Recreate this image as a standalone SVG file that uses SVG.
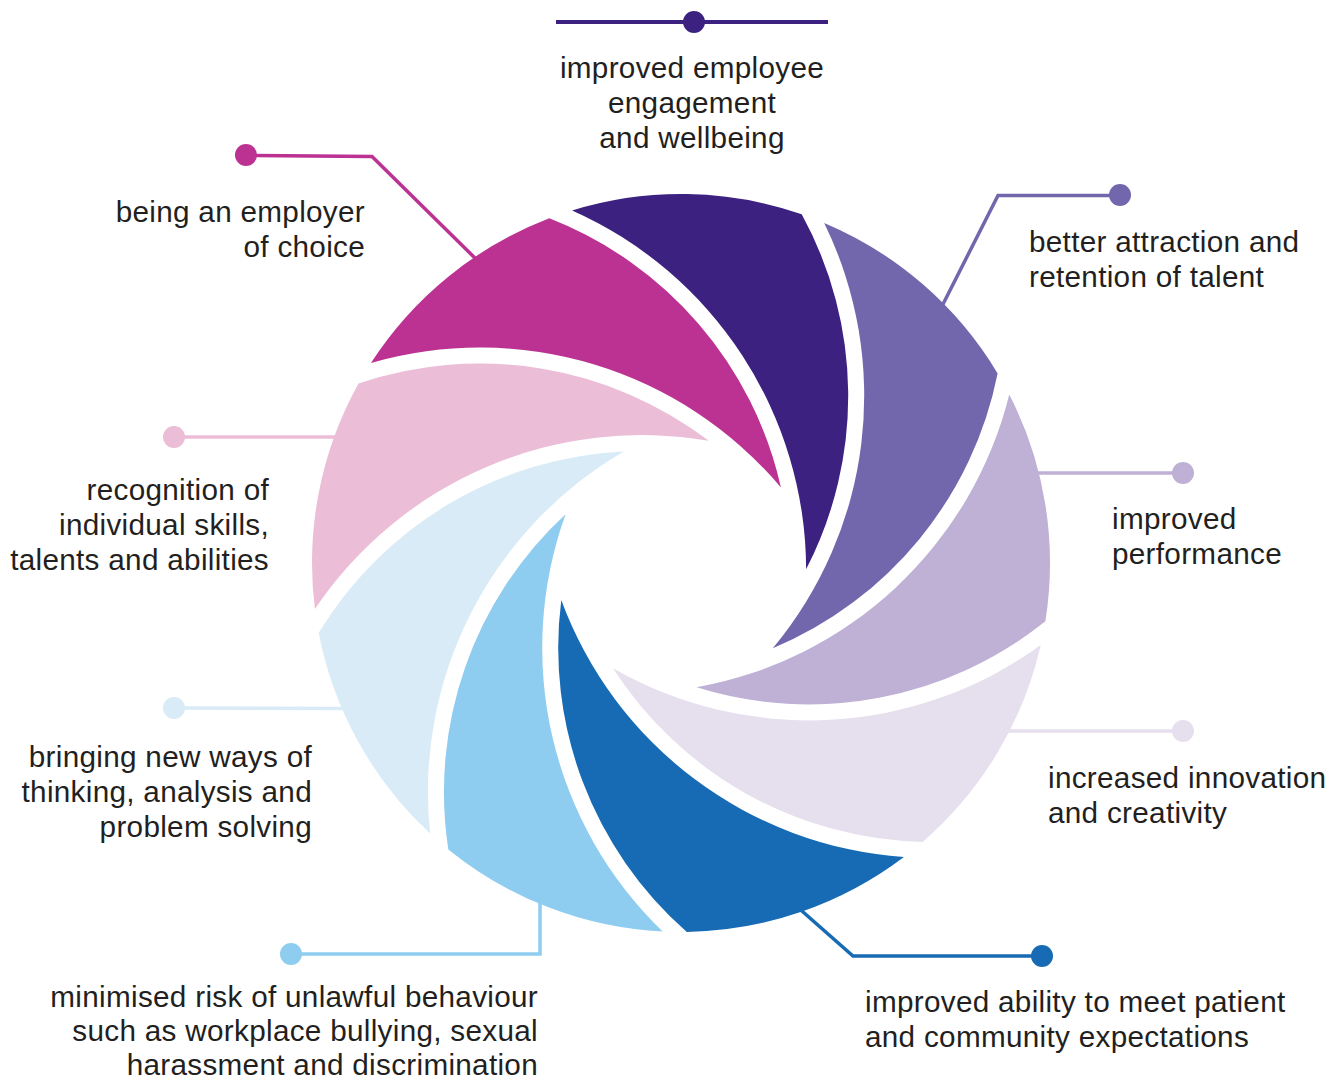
<svg xmlns="http://www.w3.org/2000/svg" width="1332" height="1081" viewBox="0 0 1332 1081">
<style>
.lbl{font-family:"Liberation Sans",Arial,sans-serif;font-size:29.7px;letter-spacing:0.3px;fill:#231f20}
.r{text-anchor:end}
.m{text-anchor:middle}
.c{fill:none;stroke-width:3.5;stroke-linejoin:miter}
</style>
<defs>
<path id="blade" d="M572.1,210.45 A369,369 0 0 1 801.7,214.3 A378,378 0 0 1 806.13,569.28 A394,394 0 0 0 572.1,210.45 Z"/>
</defs>
<rect width="1332" height="1081" fill="#ffffff"/>
<g id="connectors">
<line class="c" x1="556" y1="22" x2="828" y2="22" stroke="#3c2180" style="stroke-width:4"/>
<circle cx="694" cy="22" r="11" fill="#3c2180"/>
<polyline class="c" points="246,155.5 372,156.5 480,263" stroke="#bc3292"/>
<circle cx="246" cy="155" r="11" fill="#bc3292"/>
<polyline class="c" points="1120,195.5 998,195.5 936,318" stroke="#7266ad"/>
<circle cx="1120" cy="195" r="11" fill="#7266ad"/>
<polyline class="c" points="174,437 346,437" stroke="#ebbdd7"/>
<circle cx="174" cy="437" r="11" fill="#ebbdd7"/>
<polyline class="c" points="1183,473 1028,473" stroke="#bfb0d5"/>
<circle cx="1183" cy="473" r="11" fill="#bfb0d5"/>
<polyline class="c" points="174,708 352,708.5" stroke="#d9ebf7"/>
<circle cx="174" cy="708" r="11" fill="#d9ebf7"/>
<polyline class="c" points="1183,731 998,731" stroke="#e6dfee"/>
<circle cx="1183" cy="731" r="11" fill="#e6dfee"/>
<polyline class="c" points="291,954 540,954 540,892" stroke="#8fcdf0"/>
<circle cx="291" cy="954" r="11" fill="#8fcdf0"/>
<polyline class="c" points="1042,956 853,956 794,904" stroke="#166bb4"/>
<circle cx="1042" cy="956" r="11" fill="#166bb4"/>
</g>
<g id="blade-engagement"><use href="#blade" fill="#3c2180"/></g>
<g id="blade-employer"><use href="#blade" fill="#bc3292" transform="rotate(-40 681 563)"/></g>
<g id="blade-recognition"><use href="#blade" fill="#ebbdd7" transform="rotate(-80 681 563)"/></g>
<g id="blade-newways"><use href="#blade" fill="#d9ebf7" transform="rotate(-120 681 563)"/></g>
<g id="blade-risk"><use href="#blade" fill="#8fcdf0" transform="rotate(-160 681 563)"/></g>
<g id="blade-patient"><use href="#blade" fill="#166bb4" transform="rotate(-200 681 563)"/></g>
<g id="blade-innovation"><use href="#blade" fill="#e6dfee" transform="rotate(-240 681 563)"/></g>
<g id="blade-performance"><use href="#blade" fill="#bfb0d5" transform="rotate(-280 681 563)"/></g>
<g id="blade-attraction"><use href="#blade" fill="#7266ad" transform="rotate(-320 681 563)"/></g>
<g id="label-engagement">
<text class="lbl m" x="692" y="78">improved employee</text>
<text class="lbl m" x="692" y="113">engagement</text>
<text class="lbl m" x="692" y="148">and wellbeing</text>
</g>
<g id="label-employer">
<text class="lbl r" x="365" y="222">being an employer</text>
<text class="lbl r" x="365" y="257">of choice</text>
</g>
<g id="label-attraction">
<text class="lbl" x="1029" y="252">better attraction and</text>
<text class="lbl" x="1029" y="287">retention of talent</text>
</g>
<g id="label-recognition">
<text class="lbl r" x="269" y="500">recognition of</text>
<text class="lbl r" x="269" y="535">individual skills,</text>
<text class="lbl r" x="269" y="570">talents and abilities</text>
</g>
<g id="label-performance">
<text class="lbl" x="1112" y="529">improved</text>
<text class="lbl" x="1112" y="564">performance</text>
</g>
<g id="label-newways">
<text class="lbl r" x="312" y="767">bringing new ways of</text>
<text class="lbl r" x="312" y="802">thinking, analysis and</text>
<text class="lbl r" x="312" y="837">problem solving</text>
</g>
<g id="label-innovation">
<text class="lbl" x="1048" y="788">increased innovation</text>
<text class="lbl" x="1048" y="823">and creativity</text>
</g>
<g id="label-risk">
<text class="lbl r" x="538" y="1007">minimised risk of unlawful behaviour</text>
<text class="lbl r" x="538" y="1041">such as workplace bullying, sexual</text>
<text class="lbl r" x="538" y="1075">harassment and discrimination</text>
</g>
<g id="label-patient">
<text class="lbl" x="865" y="1012">improved ability to meet patient</text>
<text class="lbl" x="865" y="1047">and community expectations</text>
</g>
</svg>
